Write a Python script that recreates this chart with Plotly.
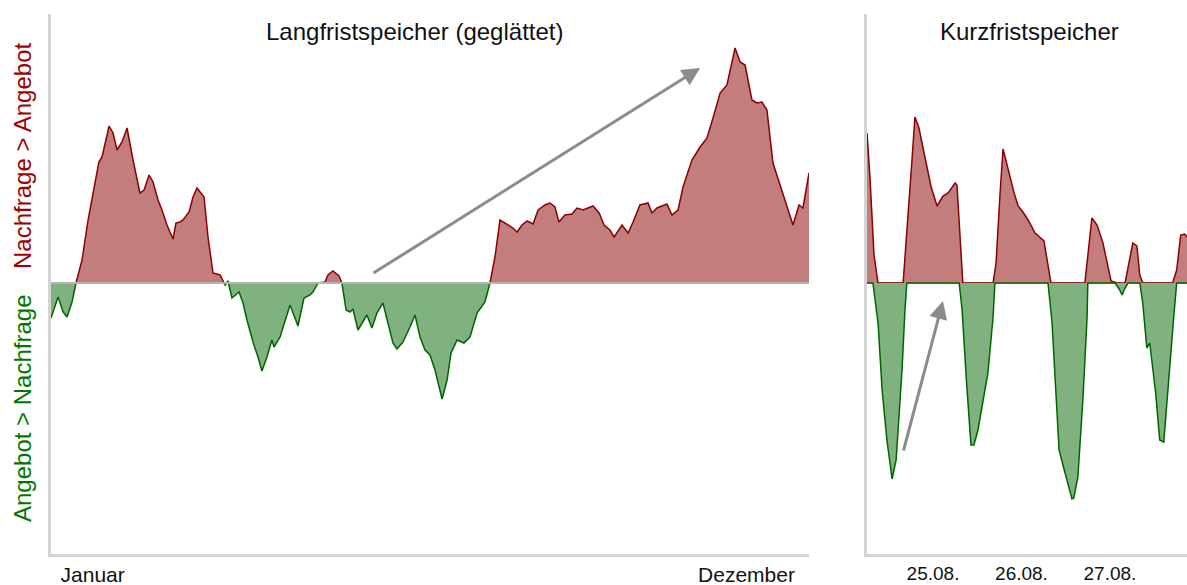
import plotly.graph_objects as go

# ---------------- Data ----------------
# Langfristspeicher (geglättet): Tag im Jahr, Bilanz (positiv = Nachfrage > Angebot)
lang_tag = [0, 3.4, 5.8, 7.7, 10.1, 12, 14.9, 17.8, 21.1, 23.0, 24.5, 27.9, 29.8, 31.7, 34.1, 36.5,
            39.4, 42.7, 44.7, 47.1, 49.0, 51.4, 53.3, 55.7, 58.6, 60.0, 61.9, 63.4, 66.3, 68.2, 70.1,
            73.5, 75.4, 77.8, 81.2, 83.6, 85.0, 86.9, 90.3, 92.2, 94.1, 97.0, 99.4, 101.3, 103.7,
            106.1, 107.1, 110.0, 114.8, 116.7, 118.6, 121.5, 124.4, 125.8, 128.2, 131.6, 133.0,
            135.4, 138.3, 139.7, 141.7, 143.6, 145.0, 147.4, 151.7, 154.1, 156.5, 159.4, 161.8,
            164.2, 166.1, 169.0, 172.4, 174.8, 177.2, 179.6, 182.0, 184.4, 187.8, 190.2, 192.1,
            195.0, 198.3, 201.2, 204.6, 208.4, 210.8, 213.2, 215.6, 217.1, 219.0, 221.8, 223.8,
            226.2, 228.6, 231.5, 233.9, 237.2, 239.6, 242.0, 243.9, 246.8, 250.2, 252.6, 255.5,
            260.3, 263.2, 265.6, 268.4, 270.4, 274.2, 277.1, 279.5, 282.8, 286.7, 288.6, 291.0,
            295.8, 298.2, 301.1, 303.5, 307.8, 311.7, 315.0, 317.9, 321.3, 324.6, 328.5, 330.9,
            333.3, 336.6, 339.0, 341.4, 343.8, 346.7, 351.5, 356.3, 359.2, 361.1, 364.0]
lang_wert = [-3.5, -1.4, -2.9, -3.4, -1.9, 0.0, 2.3, 6.3, 10.0, 12.1, 12.6, 15.7, 15.0, 13.3, 14.1, 15.5,
             12.3, 9.0, 9.3, 10.8, 10.1, 8.3, 7.3, 5.8, 4.4, 6.0, 6.1, 6.3, 7.1, 8.6, 9.5,
             8.6, 4.6, 1.0, 0.8, -0.2, 0.2, -1.5, -0.9, -2.0, -3.7, -5.9, -7.4, -8.8, -7.4,
             -5.7, -6.4, -5.4, -2.2, -3.2, -4.3, -1.5, -1.2, -0.9, 0.0, 0.1, 0.8,
             1.2, 0.7, 0.0, -2.7, -2.9, -2.6, -4.7, -3.2, -4.5, -3.0, -2.0, -3.9,
             -6.0, -6.6, -5.9, -4.4, -3.2, -5.4, -6.7, -7.2, -8.7, -11.6, -9.7, -7.0,
             -5.7, -6.0, -5.4, -3.0, -1.9, 0.0, 2.6, 6.3, 6.1, 5.9, 5.5, 5.1,
             5.8, 6.2, 5.9, 7.3, 7.8, 8.0, 7.6, 6.1, 6.8, 6.9, 7.5, 7.3,
             7.7, 7.0, 5.8, 5.3, 4.6, 5.8, 5.0, 6.1, 7.8, 8.0, 7.0, 7.5,
             7.9, 6.8, 7.3, 9.6, 12.3, 13.6, 14.5, 16.5, 19.0, 19.8, 23.5, 22.1,
             21.8, 18.3, 18.0, 18.1, 17.3, 12.0, 9.0, 5.8, 7.8, 7.5, 11.0]

# Kurzfristspeicher: Stunde ab 24.08. 00:00
kurz_nachfrage_h = [6.1, 6.9, 8.0, 9.1, 15.9, 17.2, 18.3, 19.1, 20.2, 21.8, 23.5, 25.1, 26.7, 28.1, 30.0,
                    30.5, 32.1, 40.3, 41.1, 42.2, 43.0, 44.3, 46.0, 47.1, 48.4, 49.8, 51.7, 54.1, 56.0,
                    65.2, 66.0, 67.1, 68.5, 70.1, 72.3, 73.1, 73.9, 76.1, 77.1, 78.2, 79.3, 80.1, 80.9,
                    89.0, 90.1, 91.2, 92.3, 92.9]
kurz_nachfrage = [15.0, 10.6, 2.8, 0, 0, 6.3, 12.3, 16.6, 15.5, 12.6, 9.6, 7.7, 8.7, 9.0, 10.0,
                  9.8, 0, 0, 2.0, 9.0, 13.4, 11.5, 9.0, 7.7, 7.1, 6.3, 5.0, 4.2, 0,
                  0, 3.0, 6.5, 5.8, 4.0, 0.2, 0.1, 0, 0, 2.0, 4.0, 3.7, 0.8, 0,
                  0, 1.3, 4.8, 4.9, 4.6]
kurz_angebot_h = [6.1, 7.7, 9.1, 10.2, 11.5, 12.9, 14.0, 15.6, 16.4, 16.9, 31.1, 31.9, 33.0, 34.3, 35.1,
                  36.2, 38.9, 40.3, 40.8, 55.2, 56.3, 57.4, 58.2, 59.6, 61.7, 62.2, 63.3, 64.7, 65.8,
                  66.0, 73.4, 74.5, 75.3, 76.1, 76.9, 80.1, 80.9, 82.0, 82.8, 84.4, 85.5, 86.6, 87.9,
                  89.3, 90.1, 92.9]
kurz_angebot = [0, 0, -4.0, -10.7, -15.7, -19.6, -17.7, -8.7, -2.7, 0, 0, -2.7, -9.4, -16.2, -16.2,
                -14.7, -9.0, -3.4, 0, 0, -4.0, -11.0, -16.7, -18.7, -21.6, -21.5, -19.4, -11.4, -3.4,
                0, 0, -0.6, -1.2, -0.5, 0, 0, -2.0, -6.5, -6.0, -11.0, -15.7, -15.9, -9.4,
                -3.4, 0, 0]

lang_ticks = [20, 334]
lang_ticktext = ["Januar", "Dezember"]
kurz_ticks = [24, 48, 72]
kurz_ticktext = ["25.08.", "26.08.", "27.08."]

# ---------------- Styles ----------------
RED_LINE = "#8B0000"
RED_FILL = "#C47D7D"
GREEN_LINE = "#006400"
GREEN_FILL = "#80B280"
FONT = "Liberation Sans, Arial, sans-serif"


def with_crossings(xs, vs):
    ox, ov = [], []
    for i in range(len(xs)):
        if i > 0 and vs[i - 1] * vs[i] < 0:
            t = vs[i - 1] / (vs[i - 1] - vs[i])
            ox.append(xs[i - 1] + t * (xs[i] - xs[i - 1]))
            ov.append(0.0)
        ox.append(xs[i])
        ov.append(vs[i])
    return ox, ov


lx, lv = with_crossings(lang_tag, lang_wert)
pos_fill = [max(v, 0) for v in lv]
neg_fill = [min(v, 0) for v in lv]
pos_line = [v if v >= 0 else None for v in lv]
neg_line = [v if v <= 0 else None for v in lv]

fig = go.Figure()
fig.add_trace(go.Scatter(x=lx, y=pos_fill, fill="tozeroy", fillcolor=RED_FILL, mode="none",
                         xaxis="x", yaxis="y", hoverinfo="skip"))
fig.add_trace(go.Scatter(x=lx, y=neg_fill, fill="tozeroy", fillcolor=GREEN_FILL, mode="none",
                         xaxis="x", yaxis="y", hoverinfo="skip"))
fig.add_trace(go.Scatter(x=lx, y=pos_line, mode="lines", line=dict(color=RED_LINE, width=1.5),
                         connectgaps=False, xaxis="x", yaxis="y"))
fig.add_trace(go.Scatter(x=lx, y=neg_line, mode="lines", line=dict(color=GREEN_LINE, width=1.5),
                         connectgaps=False, xaxis="x", yaxis="y"))

fig.add_trace(go.Scatter(x=kurz_nachfrage_h, y=kurz_nachfrage, fill="tozeroy", fillcolor=RED_FILL,
                         mode="lines", line=dict(color=RED_LINE, width=1.5), xaxis="x2", yaxis="y2"))
fig.add_trace(go.Scatter(x=kurz_angebot_h, y=kurz_angebot, fill="tozeroy", fillcolor=GREEN_FILL,
                         mode="lines", line=dict(color=GREEN_LINE, width=1.5), xaxis="x2", yaxis="y2"))

W, H = 1187, 585
ydom = [(H - 554) / H, (H - 14) / H]
yrange = [-27.1, 26.9]
axis_common = dict(showgrid=False, showline=True, linecolor="#d4d4d4", linewidth=3,
                   ticks="", tickfont=dict(size=21, color="#111", family=FONT))

fig.update_layout(
    width=W, height=H, margin=dict(l=0, r=0, t=0, b=0),
    paper_bgcolor="white", plot_bgcolor="white", showlegend=False,
    font=dict(family=FONT),
    xaxis=dict(domain=[51 / W, 809 / W], range=[0, 364], tickvals=lang_ticks, ticktext=lang_ticktext,
               anchor="y", zeroline=False, **axis_common),
    yaxis=dict(domain=ydom, range=yrange, showticklabels=False, anchor="x", zeroline=False,
               **axis_common),
    xaxis2=dict(domain=[867 / W, 1.0], range=[6.1, 92.9], tickvals=kurz_ticks, ticktext=kurz_ticktext,
                anchor="y2", zeroline=False, **{**axis_common, "tickfont": dict(size=19, color="#111", family=FONT)}),
    yaxis2=dict(domain=ydom, range=yrange, showticklabels=False, anchor="x2", zeroline=True,
                zerolinecolor="#b4b4b4", zerolinewidth=2, **axis_common),
)

# zero line on the long-term panel
fig.add_shape(type="line", xref="x domain", yref="y", x0=0, x1=1, y0=0, y1=0,
              line=dict(color="#b4b4b4", width=2), layer="above")

# titles
fig.add_annotation(text="Langfristspeicher (geglättet)", xref="paper", yref="paper",
                   x=414.5 / W, y=(H - 31) / H, showarrow=False, xanchor="center", yanchor="middle",
                   font=dict(size=24, color="#111", family=FONT))
fig.add_annotation(text="Kurzfristspeicher", xref="paper", yref="paper",
                   x=1029 / W, y=(H - 31) / H, showarrow=False, xanchor="center", yanchor="middle",
                   font=dict(size=24, color="#111", family=FONT))
# y-axis labels
fig.add_annotation(text="Nachfrage > Angebot", xref="paper", yref="paper", x=22 / W, y=(H - 156) / H,
                   textangle=-90, showarrow=False, xanchor="center", yanchor="middle",
                   font=dict(size=24, color="#A00000", family=FONT))
fig.add_annotation(text="Angebot > Nachfrage", xref="paper", yref="paper", x=22 / W, y=(H - 408) / H,
                   textangle=-90, showarrow=False, xanchor="center", yanchor="middle",
                   font=dict(size=24, color="#007800", family=FONT))

# arrows
fig.add_annotation(x=311.7, y=21.5, ax=154.1, ay=0.9, xref="x", yref="y", axref="x", ayref="y",
                   showarrow=True, arrowhead=2, arrowsize=1.2, arrowwidth=3, arrowcolor="#8c8c8c", text="")
fig.add_annotation(x=26.7, y=-1.8, ax=15.9, ay=-16.9, xref="x2", yref="y2", axref="x2", ayref="y2",
                   showarrow=True, arrowhead=2, arrowsize=1.2, arrowwidth=3, arrowcolor="#8c8c8c", text="")

fig.write_html("out.html", config={"displayModeBar": False},
               post_script="document.body.style.margin='0';document.body.style.padding='0';document.body.style.overflow='hidden';")
